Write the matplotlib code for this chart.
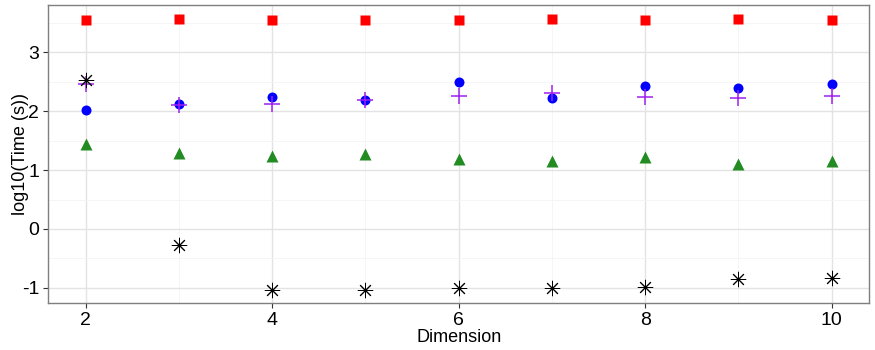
import numpy as np
import matplotlib
matplotlib.use("Agg")
import matplotlib.pyplot as plt
from matplotlib.ticker import MultipleLocator

plt.rcParams['font.family'] = ['Liberation Sans', 'DejaVu Sans']
plt.rcParams['axes.unicode_minus'] = False

dims = [2, 3, 4, 5, 6, 7, 8, 9, 10]

red_sq = [3.55, 3.57, 3.55, 3.55, 3.55, 3.57, 3.55, 3.57, 3.55]
blue_pt = [2.02, 2.13, 2.24, 2.19, 2.49, 2.22, 2.43, 2.39, 2.46]
purple_plus = [2.46, 2.11, 2.12, 2.19, 2.26, 2.31, 2.24, 2.22, 2.26]
green_tri = [1.44, 1.29, 1.24, 1.28, 1.19, 1.15, 1.23, 1.10, 1.15]
black_star = [2.53, -0.27, -1.03, -1.03, -1.00, -1.01, -0.98, -0.85, -0.84]

fig = plt.figure(figsize=(8.75, 3.5), dpi=100)
ax = fig.add_axes([0.0552, 0.135, 0.938, 0.85])

ax.plot(dims, red_sq, ls="none", marker="s", ms=7.5, color="#FF0000", mec="none")
ax.plot(dims, blue_pt, ls="none", marker="o", ms=7.2, color="#0000FF", mec="none")
ax.plot(dims, purple_plus, ls="none", marker="+", ms=11, mew=1.1, color="#A020F0")
ax.plot(dims, green_tri, ls="none", marker="^", ms=8.5, color="#228B22", mec="none")
ax.plot(dims, black_star, ls="none", marker=(8, 2, 0), ms=11, mew=0.7, color="black")

ax.set_xlim(1.6, 10.4)
ax.set_ylim(-1.253, 3.80)
ax.xaxis.set_major_locator(MultipleLocator(2))
ax.xaxis.set_minor_locator(MultipleLocator(1))
ax.yaxis.set_major_locator(MultipleLocator(1))
ax.yaxis.set_minor_locator(MultipleLocator(0.5))

ax.grid(which="major", color="#E3E3E3", lw=1.0)
ax.grid(which="minor", color="#F4F4F4", lw=0.6)
ax.set_axisbelow(True)
for s in ax.spines.values():
    s.set_color("#7F7F7F")
    s.set_linewidth(1.0)

ax.tick_params(which="major", length=3.5, width=0.8, color="#333333",
               labelsize=14, labelcolor="black", pad=3)
ax.tick_params(which="minor", length=0)

ax.set_xlabel("Dimension", fontsize=13, labelpad=0)
ax.set_ylabel("log10(Time (s))", fontsize=13)
ax.yaxis.set_label_coords(-0.023, 0.5)

fig.savefig("out.png", dpi=100)
